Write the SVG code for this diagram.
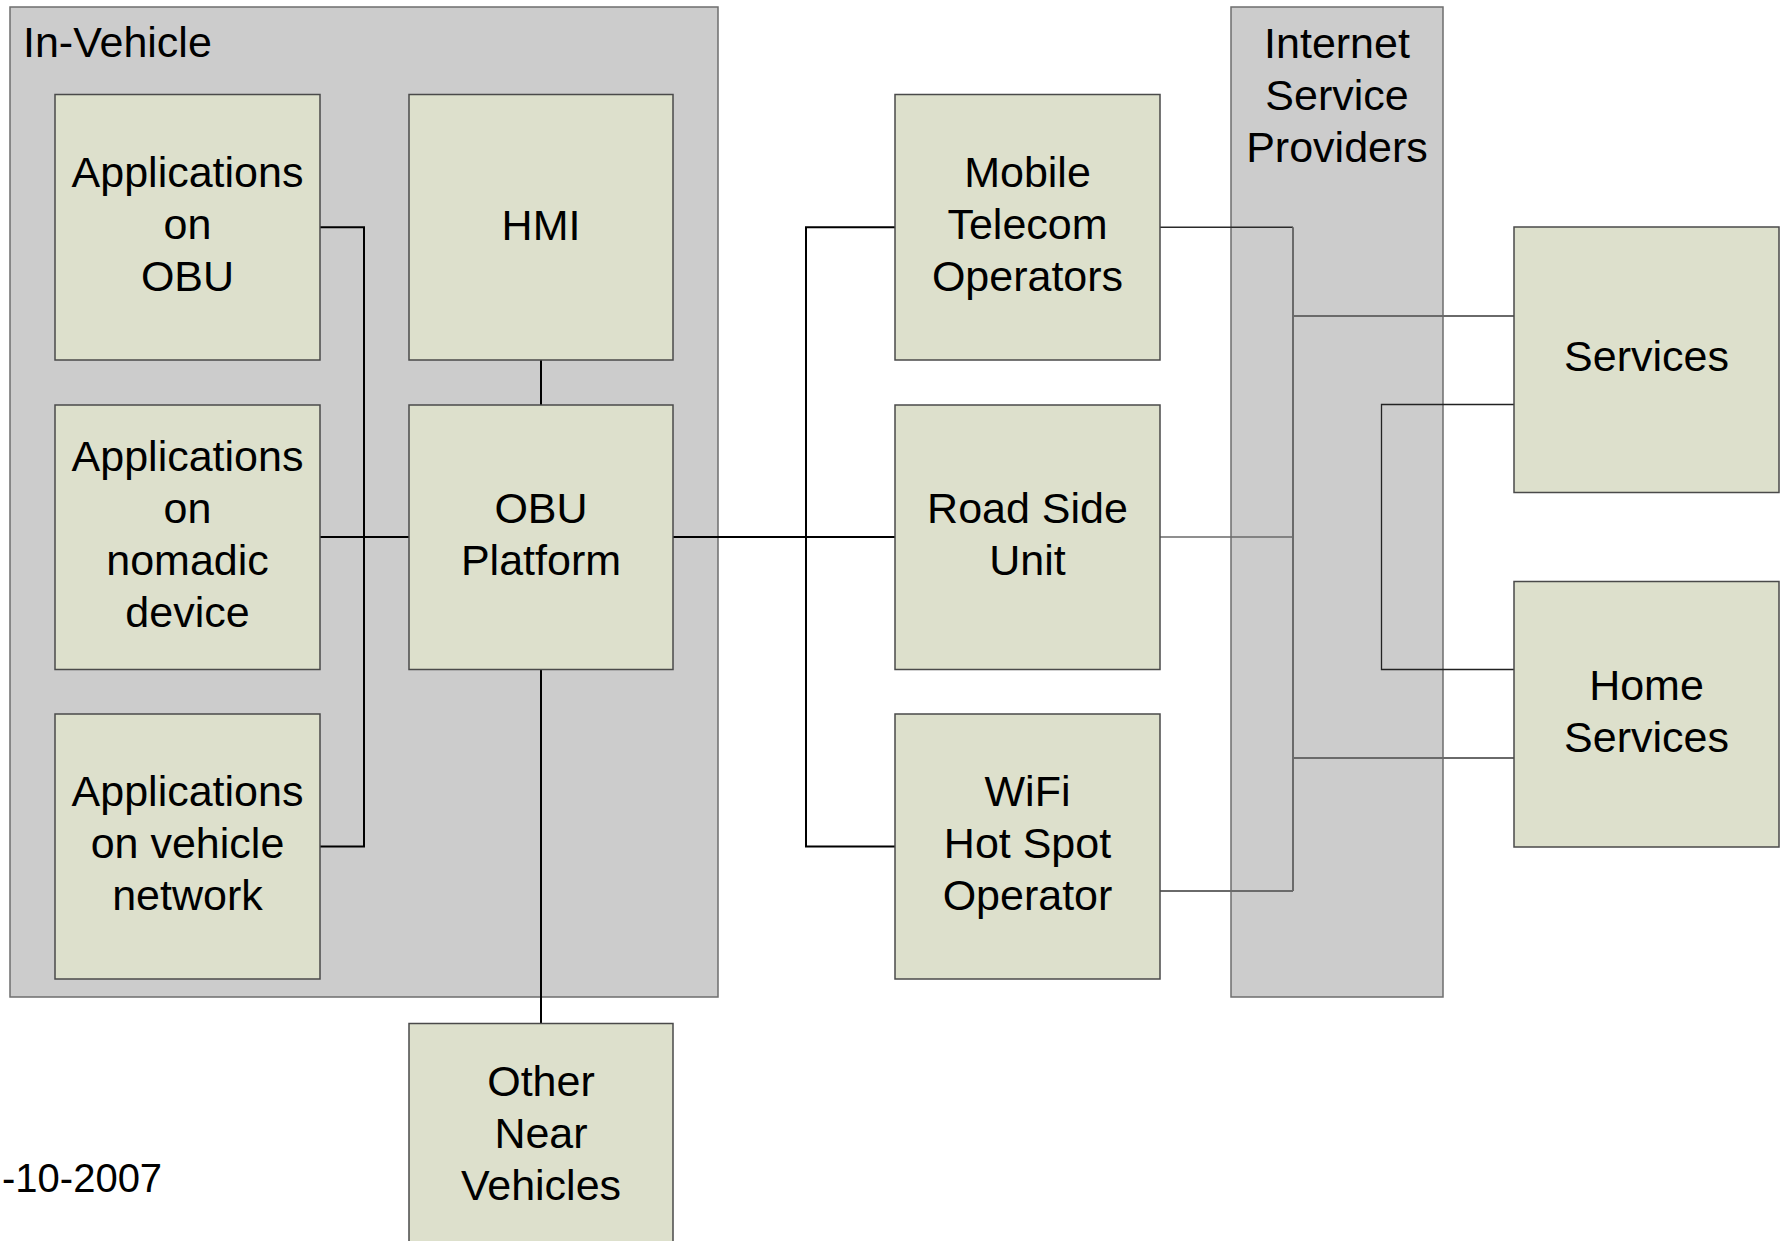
<svg xmlns="http://www.w3.org/2000/svg" width="1782" height="1241" viewBox="0 0 1782 1241">
<style>
.bg{fill:#ffffff}
.cont{fill:#cccccc;stroke:#6e6e6e;stroke-width:1.5}
.box{fill:#dde0cc;stroke:#4a4a4a;stroke-width:1.5}
text{font-family:"Liberation Sans",Arial,sans-serif;font-size:43px;fill:#000}
.c{text-anchor:middle}
.blk{fill:none;stroke:#000;stroke-width:2}
.dk{fill:none;stroke:#2a2a2a;stroke-width:1.5}
.gr{fill:none;stroke:#6a6a6a;stroke-width:2}
.thin{fill:none;stroke:#222;stroke-width:1.3}
</style>
<rect class="bg" x="0" y="0" width="1782" height="1241"/>
<g id="in-vehicle">
<rect class="cont" x="10" y="7" width="708" height="990"/>
<text x="23" y="57">In-Vehicle</text>
</g>
<g id="isp">
<rect class="cont" x="1231" y="7" width="212" height="990"/>
<text class="c" x="1337" y="58">Internet</text>
<text class="c" x="1337" y="110">Service</text>
<text class="c" x="1337" y="162">Providers</text>
</g>
<g id="connectors">
<path class="blk" d="M320 227.3 H364 V846.5 H320"/>
<path class="blk" d="M320 537 H409"/>
<path class="blk" d="M541 360 V405"/>
<path class="blk" d="M541 669.5 V1023.5"/>
<path class="blk" d="M673 537 H895"/>
<path class="blk" d="M895 227.3 H806 V846.5 H895"/>
<path class="dk" d="M1160 227.3 H1293"/>
<path class="gr" d="M1160 537 H1293" style="stroke-width:1.3"/>
<path class="gr" d="M1160 891 H1293"/>
<path class="gr" d="M1293 227.3 V891"/>
<path class="gr" d="M1293 316 H1514"/>
<path class="gr" d="M1293 758 H1514"/>
<path class="thin" d="M1514 404.5 H1381.5 V669.5 H1514"/>
</g>
<g id="apps-obu">
<rect class="box" x="55" y="94.5" width="265" height="265.5"/>
<text class="c" x="187.5" y="187">Applications</text>
<text class="c" x="187.5" y="239">on</text>
<text class="c" x="187.5" y="291">OBU</text>
</g>
<g id="hmi">
<rect class="box" x="409" y="94.5" width="264" height="265.5"/>
<text class="c" x="541" y="240">HMI</text>
</g>
<g id="apps-nomadic">
<rect class="box" x="55" y="405" width="265" height="264.5"/>
<text class="c" x="187.5" y="471">Applications</text>
<text class="c" x="187.5" y="523">on</text>
<text class="c" x="187.5" y="575">nomadic</text>
<text class="c" x="187.5" y="627">device</text>
</g>
<g id="obu-platform">
<rect class="box" x="409" y="405" width="264" height="264.5"/>
<text class="c" x="541" y="523">OBU</text>
<text class="c" x="541" y="575">Platform</text>
</g>
<g id="apps-vehicle-network">
<rect class="box" x="55" y="714" width="265" height="265"/>
<text class="c" x="187.5" y="806">Applications</text>
<text class="c" x="187.5" y="858">on vehicle</text>
<text class="c" x="187.5" y="910">network</text>
</g>
<g id="other-near-vehicles">
<rect class="box" x="409" y="1023.5" width="264" height="265.5"/>
<text class="c" x="541" y="1096">Other</text>
<text class="c" x="541" y="1148">Near</text>
<text class="c" x="541" y="1200">Vehicles</text>
</g>
<g id="mobile-telecom">
<rect class="box" x="895" y="94.5" width="265" height="265.5"/>
<text class="c" x="1027.5" y="187">Mobile</text>
<text class="c" x="1027.5" y="239">Telecom</text>
<text class="c" x="1027.5" y="291">Operators</text>
</g>
<g id="road-side-unit">
<rect class="box" x="895" y="405" width="265" height="264.5"/>
<text class="c" x="1027.5" y="523">Road Side</text>
<text class="c" x="1027.5" y="575">Unit</text>
</g>
<g id="wifi-hotspot">
<rect class="box" x="895" y="714" width="265" height="265"/>
<text class="c" x="1027.5" y="806">WiFi</text>
<text class="c" x="1027.5" y="858">Hot Spot</text>
<text class="c" x="1027.5" y="910">Operator</text>
</g>
<g id="services">
<rect class="box" x="1514" y="227" width="265" height="265.5"/>
<text class="c" x="1646.5" y="371">Services</text>
</g>
<g id="home-services">
<rect class="box" x="1514" y="581.5" width="265" height="265.5"/>
<text class="c" x="1646.5" y="700">Home</text>
<text class="c" x="1646.5" y="752">Services</text>
</g>
<text x="2" y="1192" style="font-size:40px">-10-2007</text>
</svg>
